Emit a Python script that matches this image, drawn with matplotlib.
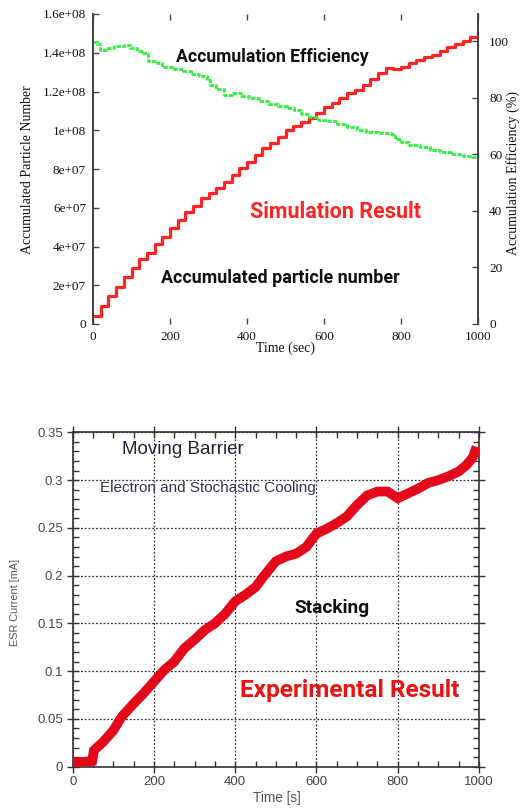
import numpy as np
import matplotlib
matplotlib.use("Agg")
import matplotlib.pyplot as plt
from matplotlib.ticker import MultipleLocator

# ---- simulation: accumulated particle number (every 20 s) ----
sim_t = np.arange(0, 1001, 20)
sim_n = [4.3e6, 9.4e6, 1.44e7, 1.93e7, 2.41e7, 2.87e7, 3.34e7, 3.68e7, 4.11e7, 4.50e7,
         4.94e7, 5.37e7, 5.76e7, 6.09e7, 6.49e7, 6.74e7, 7.03e7, 7.31e7, 7.69e7, 8.03e7,
         8.37e7, 8.72e7, 9.07e7, 9.36e7, 9.67e7, 1.00e8, 1.022e8, 1.044e8, 1.061e8, 1.087e8,
         1.118e8, 1.142e8, 1.165e8, 1.19e8, 1.21e8, 1.233e8, 1.263e8, 1.294e8, 1.323e8, 1.314e8,
         1.328e8, 1.345e8, 1.362e8, 1.376e8, 1.388e8, 1.41e8, 1.431e8, 1.445e8, 1.462e8, 1.479e8,
         1.503e8]

# ---- simulation: accumulation efficiency (%) ----
eff_t = [0, 10, 18, 35, 55, 80, 95, 115, 130, 142, 165, 180, 210, 235, 255, 275, 295, 303,
         320, 340, 360, 385, 405, 430, 455, 480, 505, 522, 540, 560, 585, 610, 635, 660, 685,
         710, 740, 775, 785, 800, 820, 850, 875, 900, 930, 960, 985, 1000]
eff = [99.8, 99.0, 97.0, 97.6, 98.3, 98.6, 97.6, 96.6, 96.0, 93.0, 92.3, 90.8, 90.4, 89.6,
       88.6, 87.6, 86.5, 84.5, 83.2, 81.0, 81.6, 80.6, 79.8, 78.8, 77.8, 77.1, 76.6, 75.8,
       74.4, 73.4, 72.3, 71.8, 70.8, 69.6, 68.8, 68.1, 67.5, 67.2, 65.6, 64.4, 63.3, 62.7,
       61.6, 60.8, 60.3, 59.6, 59.0, 58.9]

sim_yticks = [0, 2e7, 4e7, 6e7, 8e7, 1e8, 1.2e8, 1.4e8, 1.6e8]
sim_ylabels = ['0', '2e+07', '4e+07', '6e+07', '8e+07', '1e+08', '1.2e+08', '1.4e+08', '1.6e+08']

# ---- experiment: ESR current (mA) ----
esr_t = [0, 25, 48, 52, 75, 100, 120, 150, 175, 200, 225, 250, 275, 300, 325, 350, 375, 400,
         425, 450, 475, 500, 525, 550, 575, 600, 625, 650, 675, 700, 725, 750, 775, 800,
         825, 850, 875, 900, 925, 950, 970, 985, 990]
esr_ma = [0.005, 0.005, 0.006, 0.017, 0.026, 0.038, 0.052, 0.066, 0.077, 0.089, 0.101, 0.110,
          0.124, 0.133, 0.143, 0.150, 0.160, 0.173, 0.180, 0.188, 0.202, 0.215, 0.220,
          0.223, 0.230, 0.244, 0.249, 0.255, 0.262, 0.274, 0.284, 0.288, 0.288, 0.281,
          0.286, 0.291, 0.297, 0.300, 0.304, 0.309, 0.316, 0.324, 0.330]

W, H = 522, 809
fig = plt.figure(figsize=(W / 100, H / 100), dpi=100)

def box(x0, y0, x1, y1):
    return [x0 / W, 1 - y1 / H, (x1 - x0) / W, (y1 - y0) / H]

serif = 'Liberation Serif'
sans = 'Liberation Sans'
comic = 'Roboto'

# top panel
ax1 = fig.add_axes(box(93, 14, 478, 324))
ax2 = ax1.twinx()
ax1.step(sim_t, sim_n, where='post', color='#ff2424', lw=2.3, zorder=3)
ax2.step(eff_t, eff, where='post', color='#30f040', lw=2.0, ls=(0, (1.6, 0.5)))
ax1.set_xlim(0, 1000)
ax1.set_ylim(0, 1.6e8)
ax2.set_ylim(0, 109.7)
ax1.set_xticks([0, 200, 400, 600, 800, 1000])
ax1.set_yticks(sim_yticks)
ax1.set_yticklabels(sim_ylabels)
ax2.set_yticks([0, 20, 40, 60, 80, 100])
for a in (ax1, ax2):
    for s in ('top', 'bottom'):
        a.spines[s].set_visible(False)
    for s in ('left', 'right'):
        a.spines[s].set_color('#444444')
        a.spines[s].set_linewidth(1.3)
ax1.tick_params(direction='in', length=4, width=1, color='#444444', top=True,
                labelsize=9.5, labelcolor='#111111', pad=5)
ax2.tick_params(direction='in', length=4, width=1, color='#444444',
                labelsize=9.5, labelcolor='#111111', pad=8)
for lab in ax1.get_xticklabels() + ax1.get_yticklabels() + ax2.get_yticklabels():
    lab.set_family(serif)

fig.text(28 / W, 1 - 170 / H, 'Accumulated Particle Number', rotation=90,
         ha='center', va='center', family=serif, size=10, color='#111111')
fig.text(513 / W, 1 - 173 / H, 'Accumulation Efficiency (%)', rotation=90,
         ha='center', va='center', family=serif, size=10, color='#111111')
fig.text(285 / W, 1 - 348 / H, 'Time (sec)', ha='center', va='center',
         family=serif, size=10, color='#111111')

fig.text(272 / W, 1 - 57 / H, 'Accumulation Efficiency', ha='center', va='center',
         family=comic, weight='bold', size=12.7, color='#111111')
fig.text(335 / W, 1 - 212 / H, 'Simulation Result', ha='center', va='center',
         family=comic, weight='bold', size=15.5, color='#ff2424')
fig.text(280 / W, 1 - 278 / H, 'Accumulated particle number', ha='center', va='center',
         family=comic, weight='bold', size=12.9, color='#111111')

# bottom panel
ax3 = fig.add_axes(box(72.7, 432.3, 479, 766.7))
ax3.plot(esr_t, esr_ma, color='#e3081a', lw=7, solid_joinstyle='miter', zorder=3)
ax3.set_xlim(0, 1000)
ax3.set_ylim(0, 0.35)
ax3.xaxis.set_major_locator(MultipleLocator(200))
ax3.xaxis.set_minor_locator(MultipleLocator(50))
ax3.yaxis.set_minor_locator(MultipleLocator(0.01))
ax3.set_yticks([0, 0.05, 0.1, 0.15, 0.2, 0.25, 0.3, 0.35])
ax3.set_yticklabels(['0', '0.05', '0.1', '0.15', '0.2', '0.25', '0.3', '0.35'])
ax3.grid(True, which='major', ls=(0, (1.5, 1.5)), color='#333333', lw=0.9)
for s in ax3.spines.values():
    s.set_color('#333333')
    s.set_linewidth(1.2)
ax3.tick_params(which='major', direction='inout', length=8, width=1, color='#333333',
                top=True, right=True, labelsize=9.5, labelcolor='#444444', pad=3)
ax3.tick_params(which='minor', direction='in', length=4, width=1, color='#333333',
                top=True, right=True)
for lab in ax3.get_xticklabels() + ax3.get_yticklabels():
    lab.set_family(sans)

fig.text(277 / W, 1 - 798 / H, 'Time [s]', ha='center', va='center',
         family=sans, size=9.8, color='#555555')
fig.text(15 / W, 1 - 602 / H, 'ESR Current [mA]', rotation=90, ha='center', va='center',
         family=sans, size=7.8, color='#555555')
fig.text(122 / W, 1 - 450 / H, 'Moving Barrier', ha='left', va='center',
         family=sans, size=13.5, color='#222233')
fig.text(100 / W, 1 - 488 / H, 'Electron and Stochastic Cooling', ha='left', va='center',
         family=sans, size=11, color='#333344')
fig.text(332 / W, 1 - 608 / H, 'Stacking', ha='center', va='center',
         family=comic, weight='bold', size=13.8, color='#111111')
fig.text(350 / W, 1 - 690 / H, 'Experimental Result', ha='center', va='center',
         family=comic, weight='bold', size=17.6, color='#ee1111')

fig.savefig('out.png', dpi=100)
